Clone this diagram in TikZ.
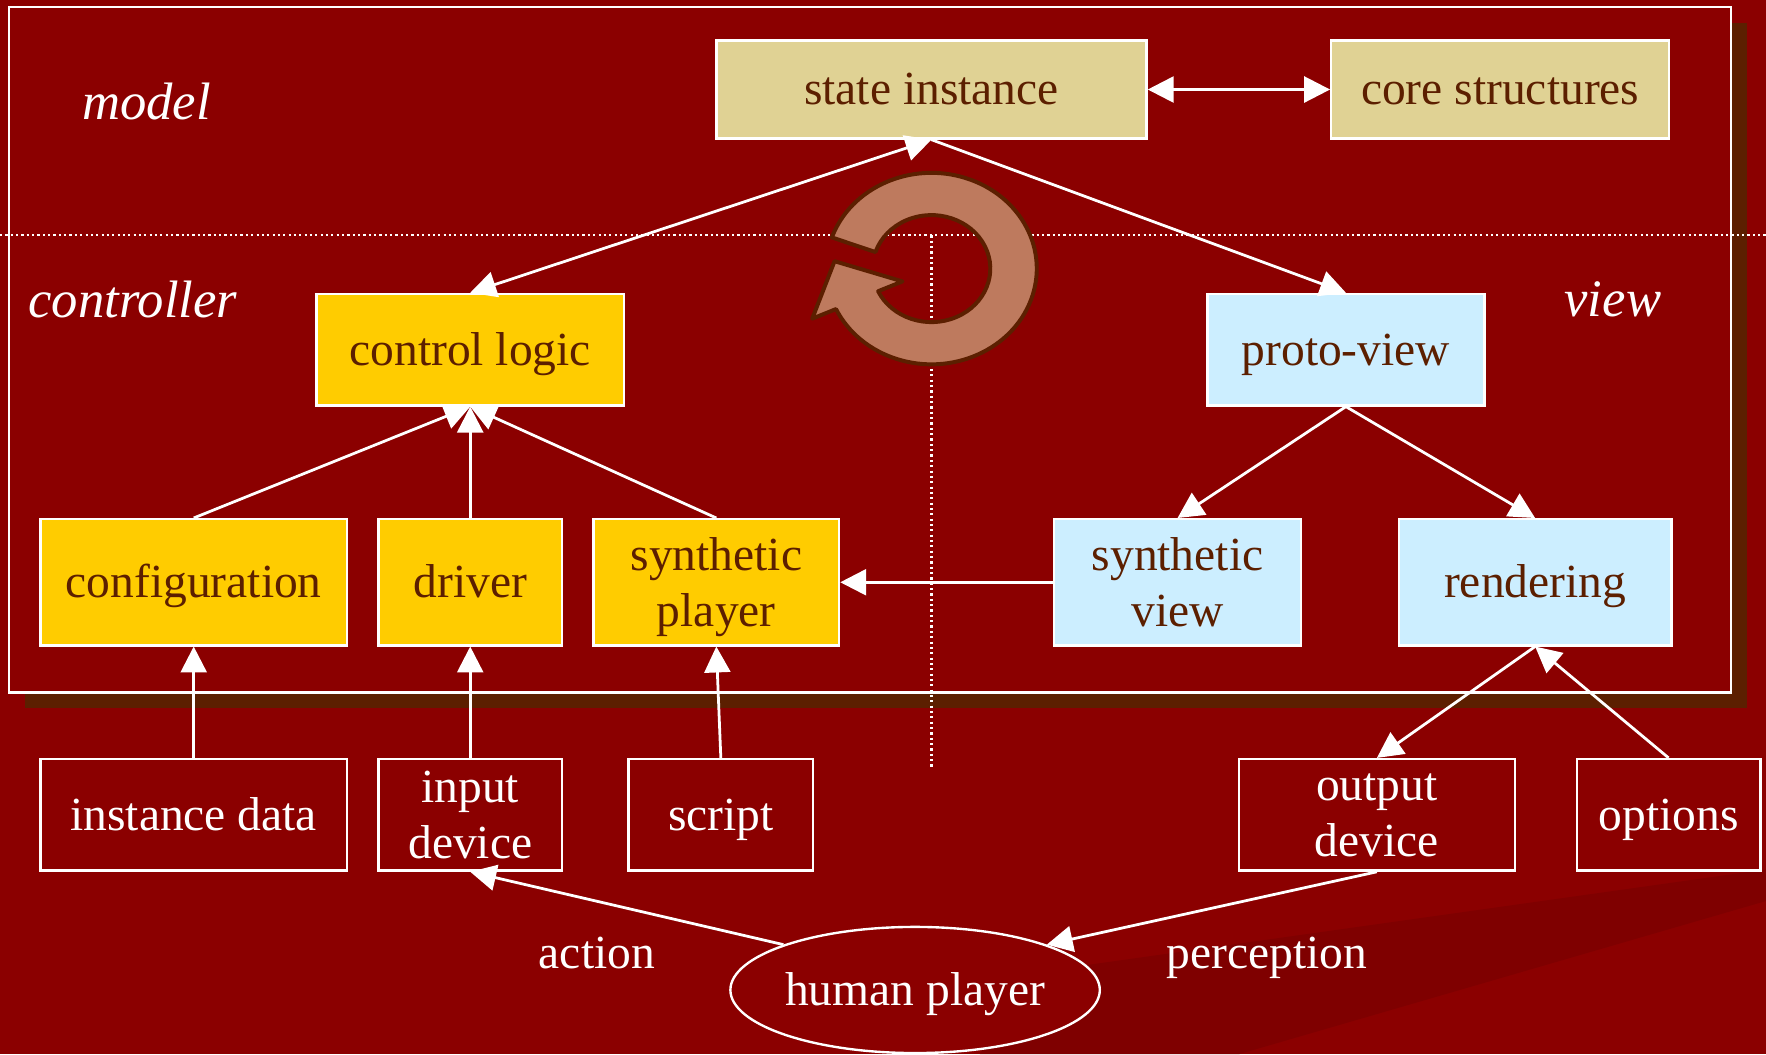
\documentclass[tikz,border=0pt]{standalone}
\usepackage{fontspec}
\setmainfont{Liberation Serif}
\usepackage{tikz}
\usetikzlibrary{shapes.geometric, arrows.meta}
\definecolor{bgred}{HTML}{8B0000}
\definecolor{umber}{HTML}{5C1F00}
\definecolor{band}{HTML}{7F0000}
\definecolor{khaki}{HTML}{E0D294}
\definecolor{ctrlyellow}{HTML}{FFCC00}
\definecolor{viewblue}{HTML}{CCEEFF}
\definecolor{loopfill}{HTML}{BE7A5E}
\tikzstyle{block} = [rectangle, draw=white, line width=0.6pt, text=umber, align=center, inner sep=0pt, text depth=0pt]
\tikzstyle{oneline} = [text height=0.78em, text depth=0pt]
\tikzstyle{modelbox} = [block, oneline, fill=khaki, minimum height=0.87cm]
\tikzstyle{ctrlbox} = [block, fill=ctrlyellow]
\tikzstyle{viewbox} = [block, fill=viewblue]
\tikzstyle{outbox} = [block, text=white, minimum height=0.99cm]
\tikzstyle{part} = [text=white, font=\fontsize{13.3}{16}\selectfont\itshape]
\tikzstyle{plain} = [text=white, oneline]
\tikzstyle{link} = [draw=white, line width=0.7pt, -{Triangle[length=2.3mm, width=2.3mm]}]
\tikzstyle{twoway} = [link, {Triangle[length=2.3mm, width=2.3mm]}-{Triangle[length=2.3mm, width=2.3mm]}]

\begin{document}
\begin{tikzpicture}[font=\fontsize{12}{14.2}\selectfont]
    \useasboundingbox (0,0) rectangle (15.68,9.36);
    \fill[bgred] (0,0) rectangle (15.68,9.36);
    \fill[band] (9.00,0.70) -- (15.68,1.64) -- (15.68,1.36) -- (11.00,0) -- (8.70,0) -- cycle;
    \fill[umber] (0.22,3.07) rectangle (15.51,9.16);
    \draw[white, line width=0.6pt, fill=bgred] (0.08,3.21) rectangle (15.37,9.30);
    % dotted split lines
    \draw[white, line width=0.55pt, dash pattern=on 0.55pt off 0.8pt] (0,7.27) -- (15.68,7.27);
    \draw[white, line width=0.55pt, dash pattern=on 0.55pt off 0.8pt] (8.27,7.27) -- (8.27,2.53);
    % cycle arrow
    \begin{scope}[shift={(8.27,6.975)}, xscale=1.1]
    \filldraw[fill=loopfill, draw=umber, line width=1pt, line join=round]
        (161:0.85) arc[start angle=161, end angle=-155, radius=0.85] -- (204.8:1.06) -- (175.2:0.785)
        -- (206:0.26) -- (205:0.475) arc[start angle=-155, end angle=162, radius=0.475] -- cycle;
    \end{scope}

    \node[part] at (1.30,8.46) {model};
    \node[part] at (1.18,6.70) {controller};
    \node[part] at (14.32,6.70) {view};

    \node[modelbox, minimum width=3.82cm] (state) at (8.27,8.565) {state instance};
    \node[modelbox, minimum width=3.00cm] (core) at (13.32,8.565) {core structures};
    \node[ctrlbox, oneline, minimum width=2.73cm, minimum height=0.99cm] (logic) at (4.175,6.255) {control logic};
    \node[viewbox, oneline, minimum width=2.46cm, minimum height=0.99cm] (proto) at (11.95,6.255) {proto-view};

    \node[ctrlbox, oneline, minimum width=2.72cm, minimum height=1.12cm] (config) at (1.72,4.19) {configuration};
    \node[ctrlbox, oneline, minimum width=1.63cm, minimum height=1.12cm] (driver) at (4.175,4.19) {driver};
    \node[ctrlbox, minimum width=2.18cm, minimum height=1.12cm] (synplayer) at (6.36,4.19) {synthetic\\ player};
    \node[viewbox, minimum width=2.19cm, minimum height=1.12cm] (synview) at (10.455,4.19) {synthetic\\ view};
    \node[viewbox, oneline, minimum width=2.42cm, minimum height=1.12cm] (render) at (13.63,4.19) {rendering};

    \node[outbox, oneline, minimum width=2.72cm] (instdata) at (1.72,2.125) {instance data};
    \node[outbox, minimum width=1.63cm] (input) at (4.175,2.125) {input\\ device};
    \node[outbox, oneline, minimum width=1.64cm] (script) at (6.40,2.125) {script};
    \node[outbox, minimum width=2.45cm] (output) at (12.225,2.125) {output\\ device};
    \node[outbox, oneline, minimum width=1.63cm] (options) at (14.815,2.125) {options};

    \node[plain, ellipse, draw=white, fill=bgred, line width=0.6pt, inner sep=0pt, minimum width=3.28cm, minimum height=1.12cm] (human) at (8.125,0.57) {human player};
    \node[plain] at (5.30,0.90) {action};
    \node[plain] at (11.25,0.90) {perception};

    \draw[twoway] (state) -- (core);
    \draw[twoway] (logic.north) -- (state.south);
    \draw[link] (state.south) -- (proto.north);
    \draw[link] (config.north) -- (logic.south);
    \draw[link] (driver.north) -- (logic.south);
    \draw[link] (synplayer.north) -- (logic.south);
    \draw[link] (proto.south) -- (synview.north);
    \draw[link] (proto.south) -- (render.north);
    \draw[link] (synview) -- (synplayer);
    \draw[link] (instdata) -- (config);
    \draw[link] (input) -- (driver);
    \draw[link] (script.north) -- (synplayer.south);
    \draw[link] (render.south) -- (output.north);
    \draw[link] (options.north) -- (render.south);
    \draw[link] (human.161) -- (input.south);
    \draw[link] (output.south) -- (human.19);
\end{tikzpicture}
\end{document}
